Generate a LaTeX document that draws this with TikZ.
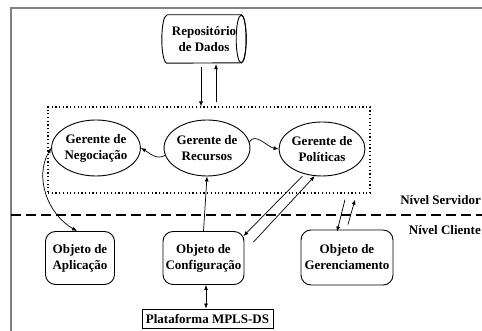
\documentclass[tikz,border=0pt]{standalone}
\usepackage{fontspec}
\setmainfont{Liberation Serif}
\usetikzlibrary{shapes.geometric,arrows.meta,calc}
\begin{document}
\begin{tikzpicture}[x=1pt,y=1pt,
  lbl/.style={font=\fontsize{13}{16}\selectfont\bfseries, align=center},
  mgr/.style={ellipse, draw, line width=0.9pt, inner sep=0pt, lbl},
  obj/.style={rectangle, rounded corners=10pt, draw, line width=0.9pt, inner sep=0pt, lbl},
  arr/.style={-{Latex[length=5pt,width=4pt]}, line width=0.7pt},
  darr/.style={{Latex[length=5pt,width=4pt]}-{Latex[length=5pt,width=4pt]}, line width=0.7pt}]
\useasboundingbox (0,0) rectangle (482,331);
% frame
\draw[gray, line width=1.5pt] (11,0) -- (11,323) -- (482,323);
% repository
\node[lbl, minimum width=84pt, minimum height=48pt, inner sep=0pt] (repo) at (204,292) {Repositório\\de Dados};
\draw[line width=0.9pt] ($(repo.north west)+(5,0)$) -- ($(repo.north east)+(-5,0)$)
  arc[start angle=90, end angle=-90, x radius=5pt, y radius=24pt]
  -- ($(repo.south west)+(5,0)$)
  arc[start angle=270, end angle=90, x radius=5pt, y radius=24pt];
\draw[line width=0.9pt] ($(repo.east)+(-5,0)$) ellipse[x radius=5pt, y radius=24pt];
% server box
\node[draw, line width=1.2pt, dash pattern=on 1.2pt off 2.5pt, minimum width=322pt, minimum height=86pt, inner sep=0pt] (srv) at (209,181) {};
\node[mgr, minimum width=82pt, minimum height=56pt] (neg) at (96,183) {Gerente de\\Negociação};
\node[mgr, minimum width=83pt, minimum height=56pt] (rec) at (207,183) {Gerente de\\Recursos};
\node[mgr, minimum width=80pt, minimum height=54pt] (pol) at (322,182) {Gerente de\\Políticas};
% level divider
\coordinate (dl) at (11,116);
\coordinate (dr) at (482,116);
\draw[line width=2pt, dash pattern=on 10pt off 5pt] (dl) -- (dr);
\node[lbl, anchor=east, inner sep=0pt] (ns) at (481,131) {Nível Servidor};
\node[lbl, anchor=east, inner sep=0pt] (nc) at (481,101) {Nível Cliente};
% client objects
\node[obj, minimum width=69pt, minimum height=53pt] (apl) at (80,73) {Objeto de\\Aplicação};
\node[obj, minimum width=81pt, minimum height=53pt] (cfg) at (203.5,73) {Objeto de\\Configuração};
\node[obj, minimum width=92pt, minimum height=55pt] (ger) at (347,73.5) {Objeto de\\Gerenciamento};
\node[draw, line width=0.9pt, lbl, minimum width=131pt, minimum height=19pt, inner sep=0pt] (plat) at (207.5,12.5) {Plataforma MPLS-DS};
% connectors
\draw[arr] ($(repo.south)+(-3,-4)$) -- ($(repo.south |- srv.north)+(-3,0)$);
\draw[arr] ($(repo.south |- srv.north)+(12,4)$) -- ($(repo.south)+(12,-1)$);
\draw[darr] (neg.west) to[out=240, in=150] ($(apl.north)+(-3,0)$);
\draw[arr] (rec.190) to[out=210, in=-30] (neg.east);
\draw[arr] (rec.8) to[out=60, in=170] (pol.west);
\draw[arr] (cfg.north) -- (rec.south);
\draw[arr, shorten <=3pt] (pol.235) -- ($(cfg.north east)+(-1,-5)$);
\draw[arr] ($(cfg.north east)+(9,-11)$) -- (pol.255);
\draw[arr] ($(ger.north)+(-2,30)$) -- ($(ger.north)+(-10,-2)$);
\draw[arr] ($(ger.north)+(1,5)$) -- ($(ger.north)+(8,30)$);
\draw[darr] ($(cfg.south)+(2.5,0)$) -- ($(plat.north)+(-1.5,0)$);
\end{tikzpicture}
\end{document}
